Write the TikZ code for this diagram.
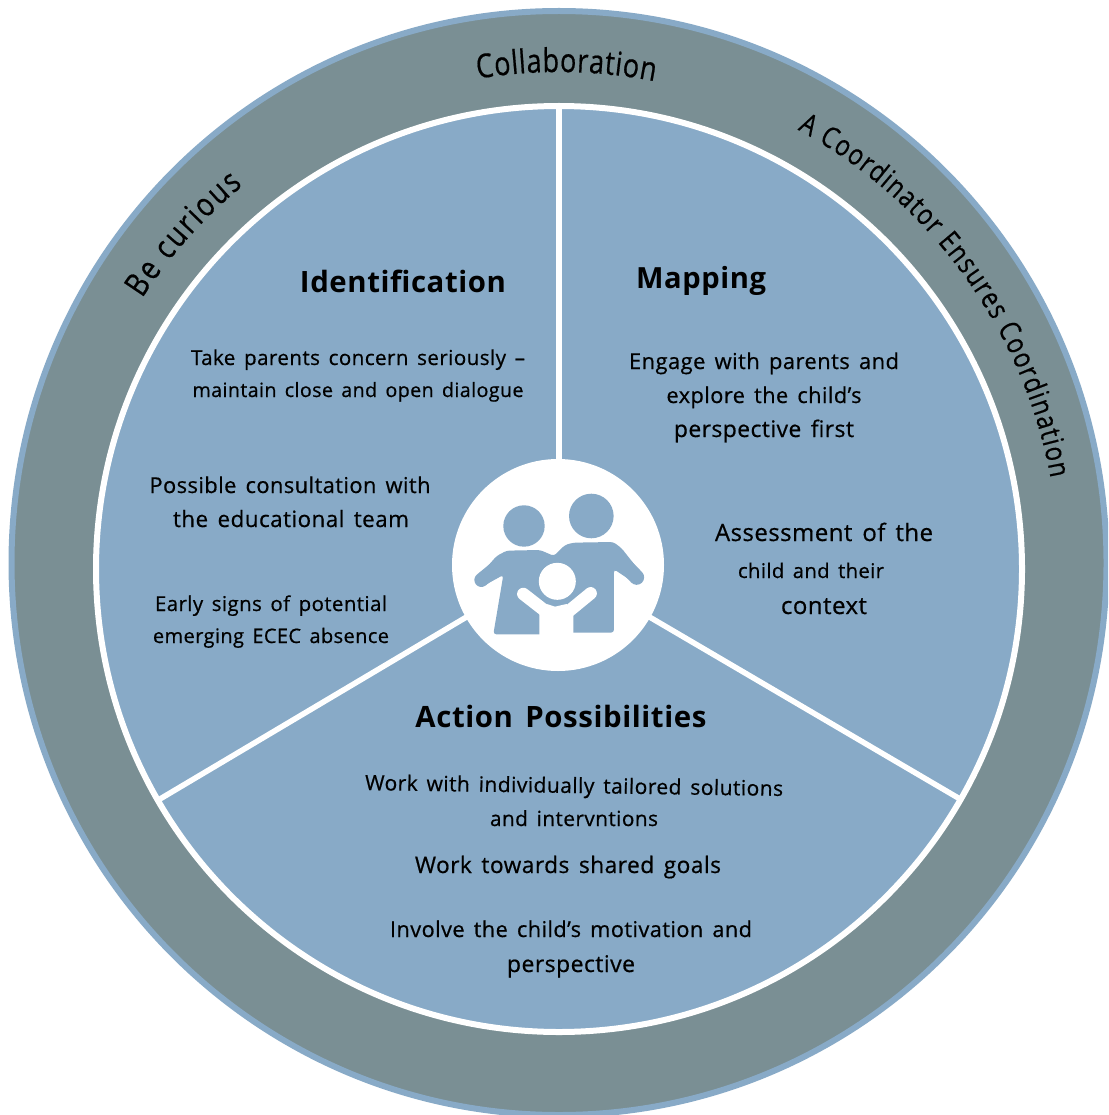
\documentclass[tikz,border=0pt]{standalone}
\usepackage{graphicx}
\usepackage{fontspec}
\setmainfont{Open Sans}[WordSpace=1.5,LetterSpace=2,FakeBold=0.6]
\newfontfamily\titlefont{Open Sans}[WordSpace=1.5,LetterSpace=2]
\newfontfamily\ringfont{Open Sans}[FakeBold=0.5,FakeStretch=0.82]
\usetikzlibrary{decorations.text}
\definecolor{ringgrey}{RGB}{122,143,148}
\definecolor{panelblue}{RGB}{136,170,199}
\newcommand{\fitw}[2]{\resizebox{#1pt}{!}{#2}}
\tikzset{
  ln/.style={anchor=base,inner sep=0pt,text=black},
  spoke/.style={draw=white,line width=5.5pt},
  ringtext/.style 2 args={decorate,decoration={text along path,text align=fit to path,
     text={|\ringfont\fontsize{#1}{#1}\selectfont|#2}}},
}
\begin{document}
\begin{tikzpicture}[x=1pt,y=-1pt]
\useasboundingbox (0,0) rectangle (1108,1115);
\begin{scope}
\clip (0,0) rectangle (1108,1115);
\fill[white] (0,0) rectangle (1108,1115);
\draw[draw=panelblue,fill=ringgrey,line width=6pt] (559,563) ellipse[x radius=547.5pt,y radius=552pt];
\end{scope}
\coordinate (c) at (559,569);
\draw[fill=panelblue,draw=white,line width=6pt] (c) circle[radius=463pt];
\coordinate (sA) at (559,105);
\coordinate (sB) at (160,799);
\coordinate (sC) at (960,799);
\node[circle,fill=white,minimum size=212pt,inner sep=0pt] (hub) at (558,565) {};
\draw[spoke] (hub.north) ++(1,2) -- (sA);
\draw[spoke] (hub.210) ++(2,-2) -- (sB);
\draw[spoke] (hub.330) ++(-2,-2) -- (sC);
% family icon
\begin{scope}[shift={(440,450)},x=0.3333pt,y=-0.3333pt]
\fill[panelblue] (252,228) circle[radius=20.7pt];
\fill[panelblue] (454,198) circle[radius=22.3pt];
\fill[panelblue,rounded corners=3pt] (160,553) -- (190,375) -- (130,408) -- (115,380) -- (170,318) -- (200,302) -- (300,300) -- (342,318) -- (375,285) -- (400,278) -- (520,276) -- (545,295) -- (600,365) -- (585,400) -- (522,358) -- (522,548) -- (400,548) -- (300,553) -- cycle;
\draw[panelblue,line width=14pt,line cap=round] (124,390) -- (185,340);
\draw[panelblue,line width=15pt,line cap=round] (590,382) -- (530,320);
\draw[white,line width=12.5pt,line cap=round] (250,432) -- (318,485);
\draw[white,line width=12.5pt,line cap=round] (452,430) -- (385,485);
\fill[white] (298,600) -- (298,490) -- (320,462) -- (345,470) -- (380,462) -- (400,490) -- (400,600) -- cycle;
\fill[white] (352,394) circle[radius=18.5pt];
\end{scope}
% ring labels
\path[ringtext={33}{Collaboration}] (c) ++(99.4:497pt) arc[start angle=99.4,end angle=78.9,radius=497pt];
\path[ringtext={33}{Be curious}] (c) ++(147:497pt) arc[start angle=147,end angle=129.5,radius=497pt];
\path[ringtext={29}{A Coordinator Ensures Coordination}] (c) ++(61.5:500pt) arc[start angle=61.5,end angle=10.5,radius=500pt];
% titles
\node[ln] (t1) at (403,292) {\fitw{206}{\titlefont\bfseries Identification}};
\node[ln] (t2) at (701,288) {\fitw{130}{\titlefont\bfseries Mapping}};
\node[ln] (t3) at (561,727) {\fitw{291}{\titlefont\bfseries Action Possibilities}};
% identification
\node[ln] (a1) at (358,365) {\fitw{334}{Take parents concern seriously –}};
\node[ln] (a2) at (358,397) {\fitw{331}{maintain close and open dialogue}};
\node[ln] (a3) at (290,493) {\fitw{281}{Possible consultation with}};
\node[ln] (a4) at (291,527) {\fitw{236}{the educational team}};
\node[ln] (a5) at (271,611) {\fitw{232}{Early signs of potential}};
\node[ln] (a6) at (271,643) {\fitw{236}{emerging ECEC absence}};
% mapping
\node[ln] (b1) at (764,369) {\fitw{270}{Engage with parents and}};
\node[ln] (b2) at (764,403) {\fitw{195}{explore the child’s}};
\node[ln] (b3) at (764,437) {\fitw{180}{perspective first}};
\node[ln] (b4) at (824,541) {\fitw{218}{Assessment of the}};
\node[ln] (b5) at (811,578) {\fitw{146}{child and their}};
\node[ln] (b6) at (824,614) {\fitw{86}{context}};
% action
\node[ln,rotate=-0.8] (c1) at (574,793) {\fitw{418}{Work with individually tailored solutions}};
\node[ln] (c2) at (574,826) {\fitw{168}{and intervntions}};
\node[ln] (c3) at (568,873) {\fitw{306}{Work towards shared goals}};
\node[ln] (c4) at (571,937) {\fitw{362}{Involve the child’s motivation and}};
\node[ln] (c5) at (571,972) {\fitw{128}{perspective}};
\end{tikzpicture}
\end{document}
